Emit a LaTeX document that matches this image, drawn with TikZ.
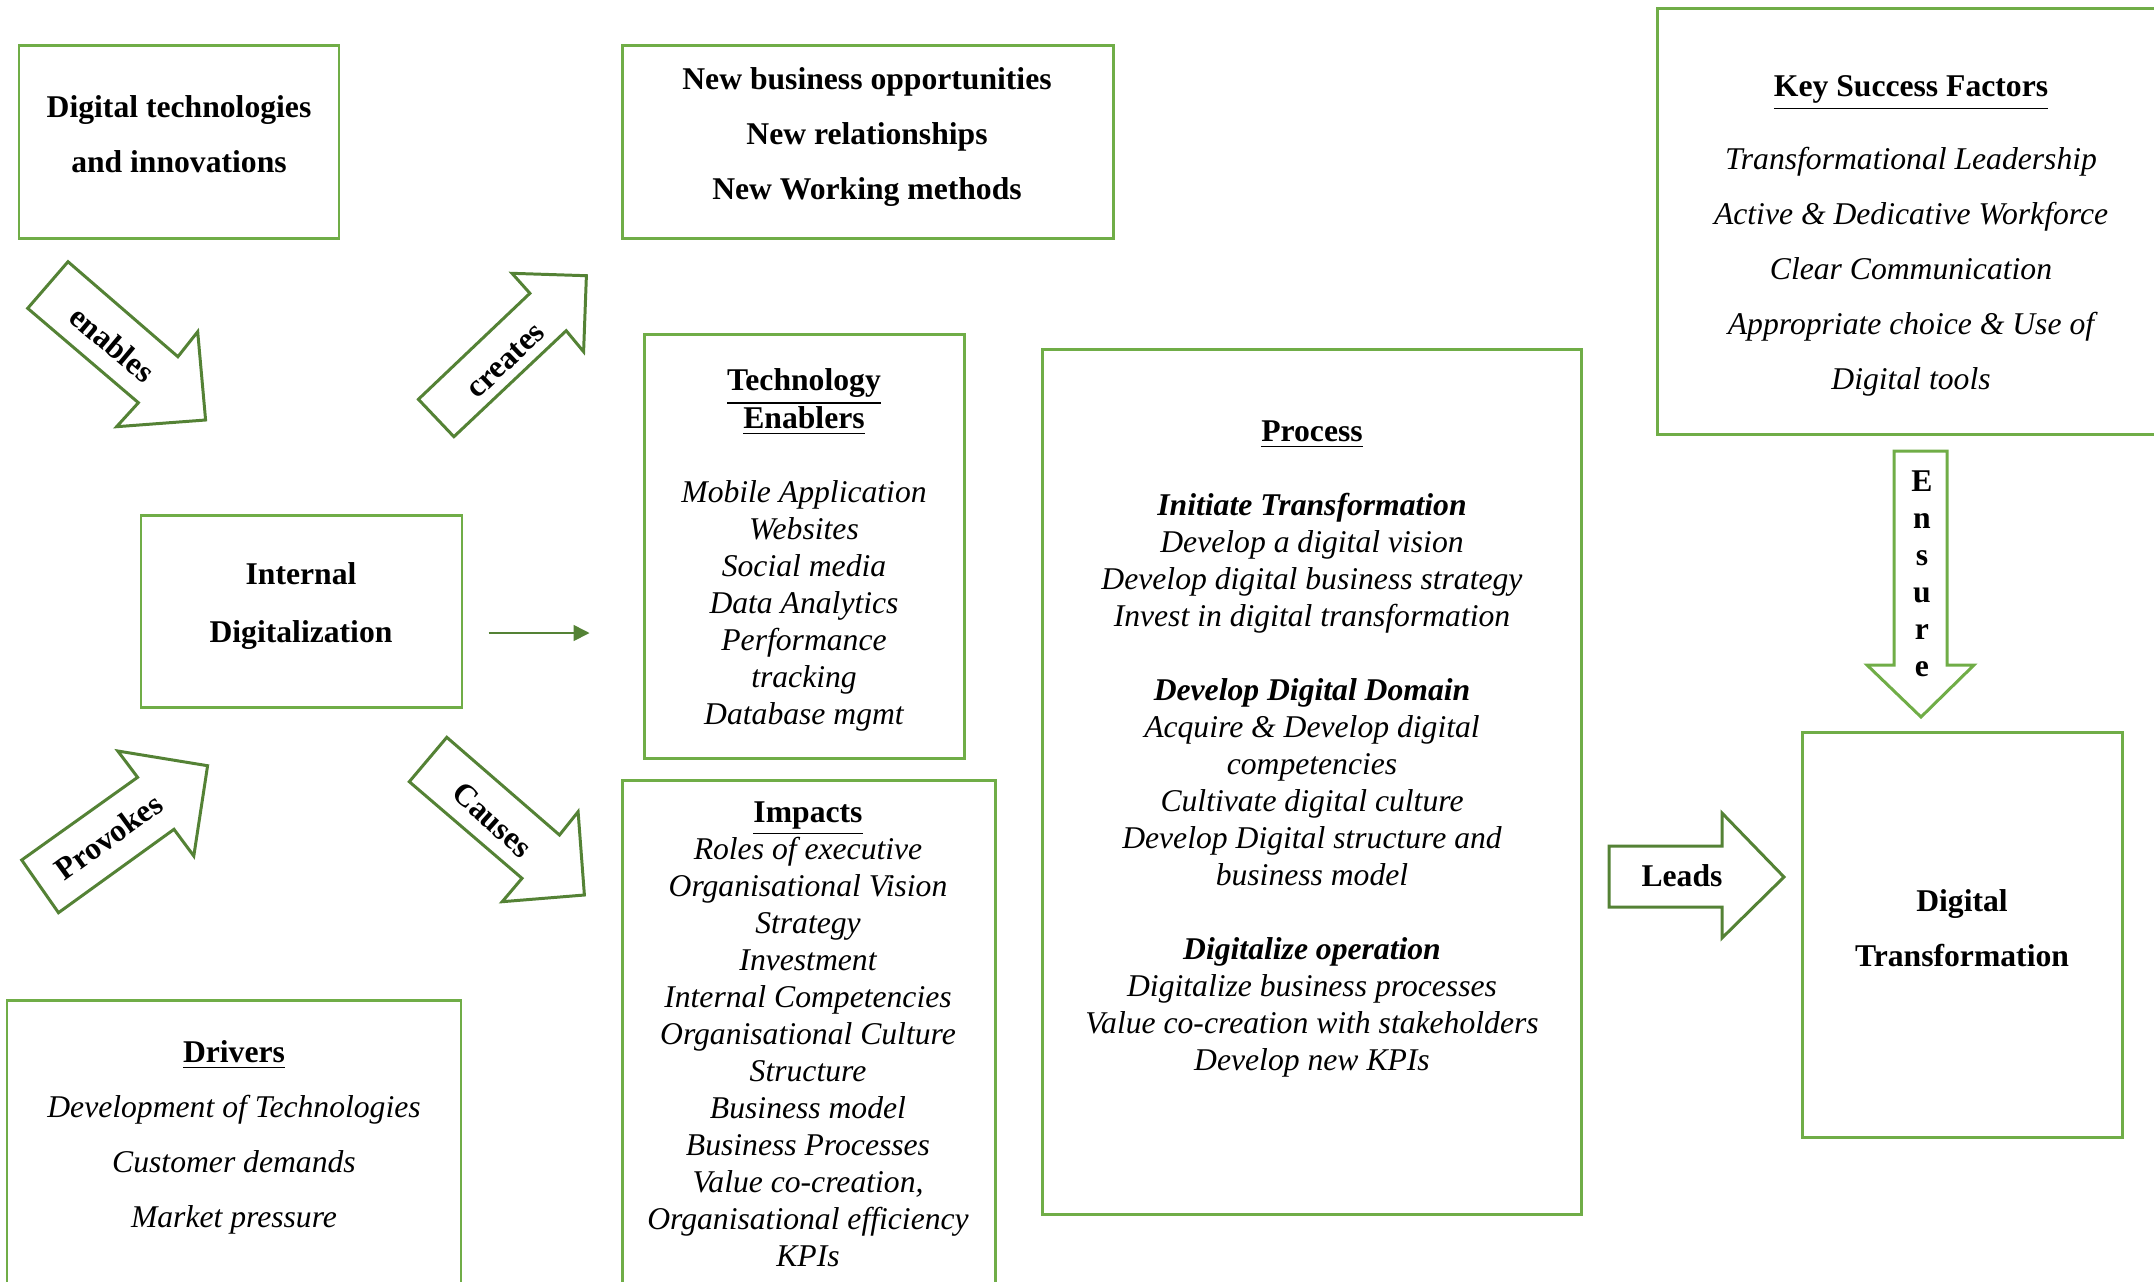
\documentclass[tikz,border=0pt]{standalone}
\usepackage{fontspec}
\setmainfont{Liberation Serif}
\usetikzlibrary{calc,fit,arrows.meta}
\definecolor{boxgreen}{RGB}{112,173,71}
\definecolor{arrowgreen}{RGB}{84,130,53}
\newcommand{\ttlu}[1]{\underline{\textbf{\upshape #1}}}
\newcommand{\grp}[1]{\textbf{#1}}
\begin{document}
\begin{tikzpicture}[x=0.01cm,y=-0.01cm,
  box/.style={draw=boxgreen, line width=0.85pt, inner sep=0pt},
  blockarrow/.style={draw=arrowgreen, line width=0.85pt, fill=white, line join=miter},
  lightarrow/.style={draw=boxgreen, line width=0.85pt, fill=white, line join=miter},
  lbl/.style={font=\fontsize{9}{10.5}\selectfont\bfseries, inner sep=0pt},
  dense/.style={align=center, inner sep=0pt, font=\fontsize{9}{10.53}\selectfont#1},
  dense/.default={},
  airy/.style={align=center, inner sep=0pt, font=\fontsize{9}{15.65}\selectfont#1},
  airy/.default={},
  conn/.style={draw=arrowgreen, line width=0.45pt, -{Triangle[length=4.5pt,width=4.5pt]}},
]
\useasboundingbox (0,0) rectangle (2154,1281);
\clip (0,0) rectangle (2154,1281);

% boxes
\node[box, fit={(19,45)(339,238)}] (dt) {};
\node[box, fit={(622,45)(1113,238)}] (nb) {};
\node[box, fit={(1657,8)(2175,434)}] (ksf) {};
\node[box, fit={(644,334)(964,758)}] (te) {};
\node[box, fit={(1042,349)(1581,1214)}] (proc) {};
\node[box, fit={(141,515)(462,707)}] (id) {};
\node[box, fit={(622,780)(995,1300)}] (imp) {};
\node[box, fit={(7,1000)(461,1300)}] (drv) {};
\node[box, fit={(1802,732)(2122,1137)}] (dtr) {};

% box texts
\node[airy=\bfseries] (dt-t) at (179,134) {Digital technologies\\and innovations};
\node[airy=\bfseries] (nb-t) at (867,137) {New business opportunities\\New relationships\\New Working methods};
\node[airy=\itshape] (ksf-t) at (1911,236) {\ttlu{Key Success Factors}\\[5.1pt]
  Transformational Leadership\\Active \& Dedicative Workforce\\Clear Communication\\
  Appropriate choice \& Use of\\Digital tools};
\node[dense=\itshape] (te-t) at (804,550) {\ttlu{Technology}\\\ttlu{Enablers}\\ \\
  Mobile Application\\Websites\\Social media\\Data Analytics\\Performance\\tracking\\Database mgmt};
\node[dense=\itshape] (proc-t) at (1312,749) {\ttlu{Process}\\ \\
  \grp{Initiate Transformation}\\Develop a digital vision\\Develop digital business strategy\\Invest in digital transformation\\ \\
  \grp{Develop Digital Domain}\\Acquire \& Develop digital\\competencies\\Cultivate digital culture\\Develop Digital structure and\\business model\\ \\
  \grp{Digitalize operation}\\Digitalize business processes\\Value co-creation with stakeholders\\Develop new KPIs};
\node[airy=\bfseries] (id-t) at (301,606) {Internal\\[0.6pt]Digitalization};
\node[dense=\itshape] (imp-t) at (808,1034) {\ttlu{Impacts}\\Roles of executive\\Organisational Vision\\Strategy\\Investment\\
  Internal Competencies\\Organisational Culture\\Structure\\Business model\\Business Processes\\
  Value co-creation,\\Organisational efficiency\\KPIs};
\node[airy=\itshape] (drv-t) at (234,1137) {\ttlu{Drivers}\\Development of Technologies\\Customer demands\\Market pressure};
\node[airy=\bfseries] (dtr-t) at (1962,928) {Digital\\Transformation};

% slanted block arrows
\draw[blockarrow] (68,261.7) -- (177.9,356.7) -- (197.7,331.7) -- (205.6,420) -- (116.6,426.7) -- (138.4,402.7) -- (27.7,308.3) -- cycle;
\node[lbl, rotate=-40] (enables) at (112.5,344) {enables};

\draw[blockarrow] (453.9,436.7) -- (566.2,330.7) -- (583.6,351.7) -- (586.4,275.7) -- (512,273.3) -- (529.9,293.3) -- (418.4,399.3) -- cycle;
\node[lbl, rotate=43.7] (creates) at (506,361) {creates};

\draw[blockarrow] (58.5,912.7) -- (174,829.3) -- (193.8,856) -- (207.6,765.7) -- (117.8,751) -- (137.6,777.3) -- (21.7,860) -- cycle;
\node[lbl, rotate=36] (provokes) at (108.7,836.7) {Provokes};

\draw[blockarrow] (446.8,737.3) -- (559.5,835) -- (578.1,811.7) -- (584.4,895) -- (502.2,901.7) -- (522,878.3) -- (409.3,781.7) -- cycle;
\node[lbl, rotate=-42] (causes) at (492.3,820) {Causes};

% Leads and Ensure arrows
\draw[blockarrow] (1609,846) -- (1722,846) -- (1722,813) -- (1784,877) -- (1722,938) -- (1722,907) -- (1609,907) -- cycle;
\node[lbl] (leads) at (1682,876) {Leads};

\draw[lightarrow] (1894,451) -- (1947,451) -- (1947,665) -- (1974,665) -- (1921,717) -- (1867,665) -- (1894,665) -- cycle;
\node[dense=\bfseries] (ensure) at (1922,574) {E\\n\\s\\u\\r\\e};

% connector from internal digitalization towards the enablers
\draw[conn] ($(id.east)+(25,22)$) -- ($(id.east -| te.west)+(-53,22)$);
\end{tikzpicture}
\end{document}
